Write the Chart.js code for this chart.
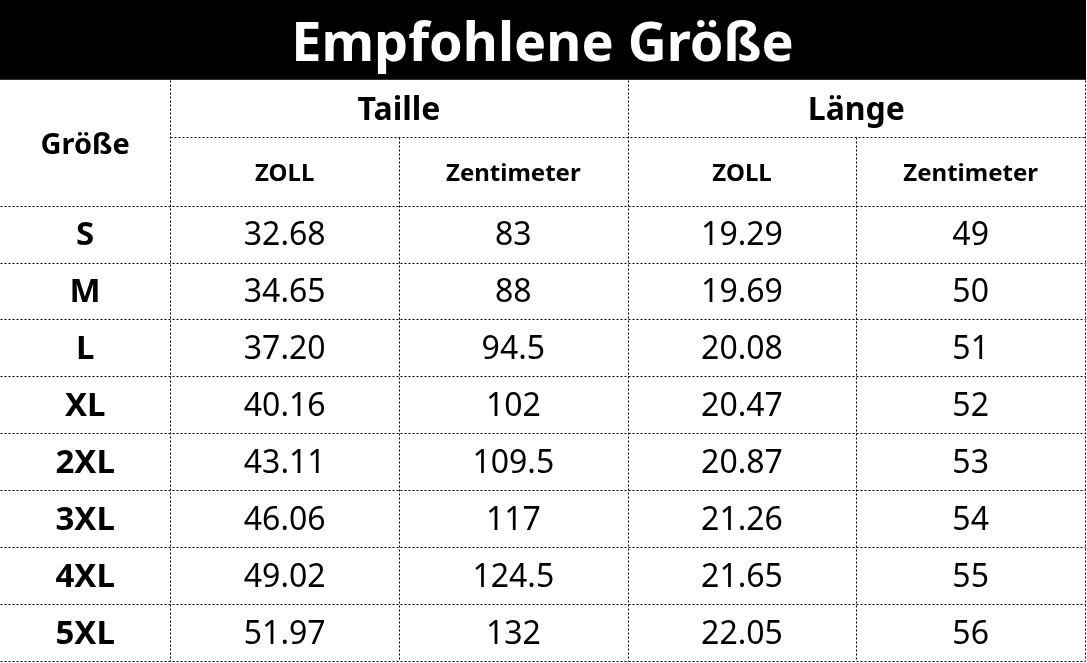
<!DOCTYPE html>
<html>
<head>
<meta charset="utf-8">
<script src="https://cdn.jsdelivr.net/npm/chart.js@4"></script>
<style>
  html, body { margin: 0; padding: 0; background: #fff; }
  #wrap { width: 1087px; height: 663px; }
</style>
</head>
<body>
<div id="wrap"><canvas id="sizeChart"></canvas></div>
<script>
// データ
const sizes = ['S', 'M', 'L', 'XL', '2XL', '3XL', '4XL', '5XL'];
const waistInch = [32.68, 34.65, 37.20, 40.16, 43.11, 46.06, 49.02, 51.97];
const waistCm = [83, 88, 94.5, 102, 109.5, 117, 124.5, 132];
const lengthInch = [19.29, 19.69, 20.08, 20.47, 20.87, 21.26, 21.65, 22.05];
const lengthCm = [49, 50, 51, 52, 53, 54, 55, 56];
const groupHeaders = ['Taille', 'Länge'];
const unitHeaders = ['ZOLL', 'Zentimeter', 'ZOLL', 'Zentimeter'];

// 表のレイアウト (スケール単位)
const firstCol = -0.745;   // 1列目の左端
const head1 = -2.21;       // 見出し1段目の上端
const head2 = -1.21;       // 見出し2段目の上端
const FONT = '"Noto Sans", "Open Sans", sans-serif';

const mkSet = (col, values, fmt) => ({
    data: values.map((v, i) => ({ x: col + 0.5, y: i + 0.5 })),
    texts: values.map(fmt),
    bold: false,
    size: 32,
    pointRadius: 0,
});

const datasets = [
    {
        data: sizes.map((s, i) => ({ x: firstCol / 2, y: i + 0.5 })),
        texts: sizes,
        bold: true,
        size: 33,
        pointRadius: 0,
    },
    mkSet(0, waistInch, v => v.toFixed(2)),
    mkSet(1, waistCm, v => String(v)),
    mkSet(2, lengthInch, v => v.toFixed(2)),
    mkSet(3, lengthCm, v => String(v)),
];

// 表を描くプラグイン
const tablePlugin = {
    id: 'tablePlugin',
    beforeDraw(chart) {
        const { ctx, chartArea } = chart;
        ctx.save();
        ctx.fillStyle = '#000';
        ctx.fillRect(0, 0, chartArea.right + 1, chartArea.top);
        ctx.restore();
    },
    afterDatasetsDraw(chart) {
        const { ctx, scales: { x, y } } = chart;
        const px = v => Math.round(x.getPixelForValue(v)) + 0.5;
        const py = v => Math.round(y.getPixelForValue(v)) + 0.5;

        ctx.save();
        ctx.strokeStyle = '#000';
        ctx.lineWidth = 1;
        ctx.setLineDash([2, 2]);
        const line = (x1, y1, x2, y2) => {
            ctx.beginPath();
            ctx.moveTo(x1, y1);
            ctx.lineTo(x2, y2);
            ctx.stroke();
        };
        // 横線
        line(px(0), py(head2), px(4), py(head2));
        for (let i = 0; i <= sizes.length; i++) {
            line(px(firstCol), py(i), px(4), py(i));
        }
        // 縦線
        line(px(0), py(head1), px(0), py(sizes.length));
        line(px(1), py(head2), px(1), py(sizes.length));
        line(px(2), py(head1), px(2), py(sizes.length));
        line(px(3), py(head2), px(3), py(sizes.length));
        line(px(4), py(head1), px(4), py(sizes.length));
        ctx.setLineDash([]);

        ctx.textAlign = 'center';
        ctx.textBaseline = 'middle';
        ctx.fillStyle = '#000';

        // 見出し
        ctx.font = 'bold 29px ' + FONT;
        ctx.fillText('Größe', x.getPixelForValue(firstCol / 2), y.getPixelForValue(head1 / 2) + 3);
        ctx.font = 'bold 32px ' + FONT;
        groupHeaders.forEach((t, i) => {
            ctx.fillText(t, x.getPixelForValue(i * 2 + 1), y.getPixelForValue((head1 + head2) / 2) + 3);
        });
        ctx.font = 'bold 24px ' + FONT;
        unitHeaders.forEach((t, i) => {
            ctx.fillText(t, x.getPixelForValue(i + 0.5), y.getPixelForValue(head2 / 2) + 3);
        });

        // セルの値
        chart.data.datasets.forEach((ds, di) => {
            const meta = chart.getDatasetMeta(di);
            ctx.font = (ds.bold ? 'bold ' : '') + ds.size + 'px ' + FONT;
            meta.data.forEach((pt, i) => {
                ctx.fillText(ds.texts[i], pt.x, pt.y + 2);
            });
        });
        ctx.restore();
    }
};

new Chart(document.getElementById('sizeChart'), {
    type: 'scatter',
    data: { datasets },
    options: {
        responsive: true,
        maintainAspectRatio: false,
        animation: false,
        events: [],
        layout: { padding: { left: 0, right: 2, top: 0, bottom: 2 } },
        plugins: {
            legend: { display: false },
            tooltip: { enabled: false },
            title: {
                display: true,
                text: 'Empfohlene Größe',
                color: '#fff',
                font: { family: FONT, size: 54, weight: 'bold', lineHeight: 1.2 },
                padding: { top: 13, bottom: 2 },
            },
        },
        scales: {
            x: { type: 'linear', display: false, min: firstCol, max: 4 },
            y: { type: 'linear', display: false, min: head1, max: sizes.length, reverse: true },
        },
    },
    plugins: [tablePlugin],
});
</script>
</body>
</html>
